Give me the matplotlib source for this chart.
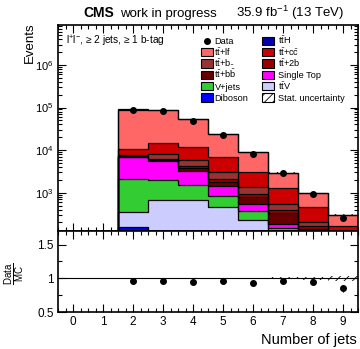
import numpy as np
import matplotlib
matplotlib.use("Agg")
import matplotlib.pyplot as plt
from matplotlib.patches import Rectangle
from matplotlib.lines import Line2D
from matplotlib.ticker import MultipleLocator, LogLocator, NullFormatter

plt.rcParams['font.family'] = ['Liberation Sans', 'DejaVu Sans']
plt.rcParams['mathtext.fontset'] = 'custom'
plt.rcParams['mathtext.rm'] = 'Liberation Sans'
plt.rcParams['mathtext.it'] = 'Liberation Sans:italic'
plt.rcParams['mathtext.bf'] = 'Liberation Sans:bold'
plt.rcParams['hatch.linewidth'] = 0.6

# ---- event yields per jet multiplicity ----
n_jets = [2, 3, 4, 5, 6, 7, 8, 9]
data = [86200, 84400, 49500, 22500, 8300, 2850, 922, 259]

diboson = [155, 100, 90, 60, 30, 15, 8, 4]
ttv = [204, 590, 600, 410, 200, 95, 52, 21]
vjets = [1700, 1260, 790, 375, 148, 42, 20, 10]
single_top = [4690, 3610, 1710, 605, 157, 36, 15, 10]
tt_bb = [250, 390, 550, 350, 271, 142, 45, 15]
tt_2b = [200, 350, 500, 300, 114, 60, 25, 15]
tt_b = [370, 1800, 1620, 950, 460, 150, 37, 25]
tt_cc = [2830, 6400, 6040, 3700, 1720, 730, 268, 66]
tt_lf = [79400, 73400, 40500, 16650, 5730, 1680, 498, 134]
tth = [60, 90, 90, 70, 40, 20, 8, 4]

# relative MC statistical uncertainty per bin
stat_unc_rel = [0.003, 0.003, 0.004, 0.006, 0.009, 0.015, 0.025, 0.04]

x_ticks = [0, 1, 2, 3, 4, 5, 6, 7, 8, 9]

# stacking order: bottom first
stack = [
    ("Diboson", diboson, "#0000ff"),
    (r"$\mathrm{t\bar{t}V}$", ttv, "#ccccff"),
    ("V+jets", vjets, "#33cc33"),
    ("Single Top", single_top, "#ff00ff"),
    (r"$\mathrm{t\bar{t}}$+$\mathrm{b\bar{b}}$", tt_bb, "#660000"),
    (r"$\mathrm{t\bar{t}}$+2b", tt_2b, "#990000"),
    (r"$\mathrm{t\bar{t}}$+b$\bar{\ }$", tt_b, "#993333"),
    (r"$\mathrm{t\bar{t}}$+$\mathrm{c\bar{c}}$", tt_cc, "#cc0000"),
    (r"$\mathrm{t\bar{t}}$+lf", tt_lf, "#ff6666"),
    (r"$\mathrm{t\bar{t}H}$", tth, "#0000aa"),
]

W, H = 360, 349
fig = plt.figure(figsize=(W / 100, H / 100), dpi=100)
ax = fig.add_axes([58 / W, 1 - 231 / H, 300 / W, (231 - 24.5) / H])
rax = fig.add_axes([58 / W, 1 - 312.3 / H, 300 / W, (312.3 - 231) / H], sharex=ax)

x = np.array(n_jets, dtype=float)
edges = np.append(x - 0.5, x[-1] + 0.5)
base_floor = 1e-2

bottom = np.full(len(x), base_floor)
colors = {}
for label, vals, color in stack:
    top = bottom + np.array(vals, dtype=float)
    ax.stairs(top, edges, baseline=bottom, fill=True, color=color, lw=0, zorder=2)
    ax.stairs(top, edges, baseline=base_floor, fill=False, edgecolor="black", lw=0.9, zorder=3)
    colors[label] = color
    bottom = top

total = bottom - base_floor
err = total * np.array(stat_unc_rel)
ax.bar(x, 2 * err, bottom=total - err, width=1.0, fill=False, hatch="////",
       lw=0, edgecolor="black", zorder=4)

data_arr = np.array(data, dtype=float)
ax.errorbar(x, data_arr, yerr=np.sqrt(data_arr), fmt="o", color="black",
            markersize=4, elinewidth=0.8, capsize=0, zorder=5)

ax.set_yscale("log")
ax.set_xlim(-0.5, 9.5)
ax.set_ylim(126, 8.9e6)
ax.yaxis.set_major_locator(LogLocator(base=10, numticks=10))
ax.yaxis.set_minor_locator(LogLocator(base=10, subs=np.arange(2, 10), numticks=20))
ax.yaxis.set_minor_formatter(NullFormatter())
ax.xaxis.set_major_locator(MultipleLocator(1))
ax.xaxis.set_minor_locator(MultipleLocator(0.25))
ax.tick_params(axis="x", labelbottom=False)

for a in (ax, rax):
    a.tick_params(which="both", direction="in", top=True, right=True, width=0.8)
    a.tick_params(which="major", length=6)
    a.tick_params(which="minor", length=3)
    for s in a.spines.values():
        s.set_linewidth(1.2)
ax.tick_params(axis="y", labelsize=8, pad=3)

# ---- ratio panel ----
ratio = data_arr / total
rel = np.array(stat_unc_rel)
rax.bar(x, 2 * rel, bottom=1 - rel, width=1.0, fill=False, hatch="////",
        lw=0, edgecolor="black", zorder=2)
rax.axhline(1.0, color="black", lw=0.8, zorder=3)
rax.errorbar(x, ratio, yerr=ratio / np.sqrt(data_arr), fmt="o", color="black",
             markersize=4, elinewidth=0.8, capsize=0, zorder=5)
rax.set_ylim(0.5, 1.7)
rax.yaxis.set_major_locator(MultipleLocator(0.5))
rax.yaxis.set_minor_locator(MultipleLocator(0.25))
rax.yaxis.set_major_formatter(plt.FuncFormatter(lambda v, p: f"{v:g}"))
rax.set_xticks(x_ticks)
rax.set_xticklabels([str(t) for t in x_ticks])
rax.tick_params(axis="both", labelsize=8.5, pad=3)


def fx(px):
    return px / W


def fy(py):
    return 1 - py / H


# ---- texts ----
fig.text(fx(83), fy(17.3), "CMS", fontsize=10, fontweight="bold", va="baseline")
fig.text(fx(120.5), fy(17.3), "work in progress", fontsize=9.5, va="baseline")
fig.text(fx(343.5), fy(17.3), r"35.9 fb$^{-1}$ (13 TeV)", fontsize=9.5,
         ha="right", va="baseline")
fig.text(fx(66.5), fy(44.5), r"l$^{+}$l$^{-}$, ≥ 2 jets, ≥ 1 b-tag", fontsize=7.3,
         va="baseline")
fig.text(fx(30), fy(22), "Events", fontsize=9.5, rotation=90, ha="center", va="top")
fig.text(fx(357), fy(344), "Number of jets", fontsize=10.5, ha="right", va="baseline")
fig.text(fx(15), fy(274), r"$\frac{\mathrm{Data}}{\mathrm{MC}}$", fontsize=10,
         rotation=90, ha="center", va="center")

# ---- legend: two columns, laid out row by row ----
col_box_x = [200.7, 261.7]
col_text_x = [214.5, 277.5]
row_y0, row_dy = 41.0, 11.3
box_w, box_h = 12.6, 8.2
rows = [
    ("Data", None, r"$\mathrm{t\bar{t}H}$", colors[stack[9][0]]),
    (stack[8][0], colors[stack[8][0]], stack[7][0], colors[stack[7][0]]),
    (stack[6][0], colors[stack[6][0]], stack[5][0], colors[stack[5][0]]),
    (stack[4][0], colors[stack[4][0]], stack[3][0], colors[stack[3][0]]),
    (stack[2][0], colors[stack[2][0]], stack[1][0], colors[stack[1][0]]),
    (stack[0][0], colors[stack[0][0]], "Stat. uncertainty", "hatch"),
]
for i, (l1, c1, l2, c2) in enumerate(rows):
    yc = row_y0 + i * row_dy
    for col, (lab, c) in enumerate(((l1, c1), (l2, c2))):
        bx = col_box_x[col]
        if lab == "Data":
            fig.add_artist(Line2D([fx(bx + box_w / 2)], [fy(yc)], marker="o",
                                  color="black", markersize=4, ls="none",
                                  transform=fig.transFigure))
        elif c == "hatch":
            fig.add_artist(Rectangle((fx(bx), fy(yc + box_h / 2)), box_w / W, box_h / H,
                                     facecolor="white", edgecolor="black", hatch="////",
                                     lw=0.8, transform=fig.transFigure))
        else:
            fig.add_artist(Rectangle((fx(bx), fy(yc + box_h / 2)), box_w / W, box_h / H,
                                     facecolor=c, edgecolor="black", lw=0.8,
                                     transform=fig.transFigure))
        fig.text(fx(col_text_x[col]), fy(yc + 3.3), lab, fontsize=6.6, va="baseline")

fig.savefig("out.png", dpi=100)
